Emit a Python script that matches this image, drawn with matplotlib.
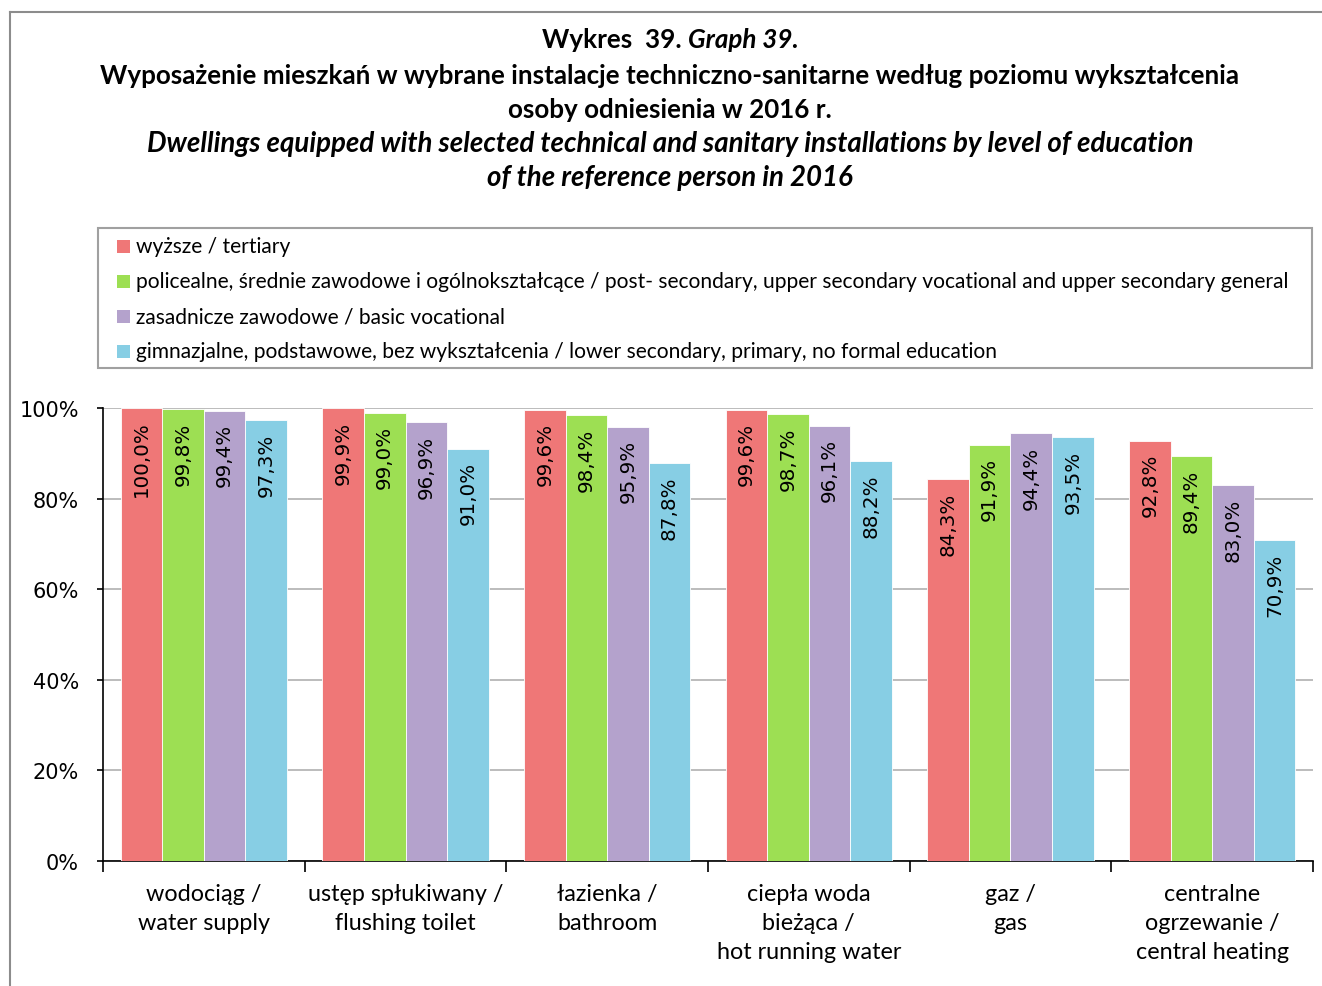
import matplotlib
matplotlib.use("Agg")
import matplotlib.pyplot as plt
from matplotlib.lines import Line2D
from matplotlib.patches import Rectangle
import numpy as np

categories = ["wodociąg /\nwater supply", "ustęp spłukiwany /\nflushing toilet", "łazienka /\nbathroom",
              "ciepła woda\nbieżąca /\nhot running water", "gaz /\ngas", "centralne\nogrzewanie /\ncentral heating"]
series_names = ["wyższe / tertiary",
                "policealne, średnie zawodowe i ogólnokształcące / post- secondary, upper secondary vocational and upper secondary general",
                "zasadnicze zawodowe / basic vocational",
                "gimnazjalne, podstawowe, bez wykształcenia / lower secondary, primary, no formal education"]
tertiary = [100.0, 99.9, 99.6, 99.6, 84.3, 92.8]
secondary = [99.8, 99.0, 98.4, 98.7, 91.9, 89.4]
vocational = [99.4, 96.9, 95.9, 96.1, 94.4, 83.0]
lower = [97.3, 91.0, 87.8, 88.2, 93.5, 70.9]
yticks = [0, 20, 40, 60, 80, 100]
ytick_labels = ["0%", "20%", "40%", "60%", "80%", "100%"]

colors = ["#EF7777", "#9DDF53", "#B4A2CC", "#87CEE4"]
series = [tertiary, secondary, vocational, lower]

W, H = 1322, 987
fig = plt.figure(figsize=(W / 100, H / 100), dpi=100)
fig.patch.set_facecolor("white")

TF = "Lato"

def fx(px):
    return px / W

def fy(py):
    return 1 - py / H

# Frame lines
fig.add_artist(Line2D([fx(10), 1.0], [fy(13), fy(13)], color="#8c8c8c", lw=1.5))
fig.add_artist(Line2D([fx(10), fx(10)], [fy(13), 0], color="#8c8c8c", lw=1.5))

# Title
cx = fx(670)
BS = 18.7
IS = 19.9
t1a = fig.text(0, fy(40), "Wykres  39. ", fontsize=BS, fontweight="bold", family=TF, ha="left", va="center")
t1b = fig.text(0, fy(40), "Graph 39.", fontsize=BS, fontweight="bold", style="italic", family=TF, ha="left", va="center")
fig.canvas.draw()
r = fig.canvas.get_renderer()
wa = t1a.get_window_extent(r).width
wb = t1b.get_window_extent(r).width
start = cx * W - (wa + wb) / 2
t1a.set_x(start / W)
t1b.set_x((start + wa) / W)
fig.text(cx, fy(76), "Wyposażenie mieszkań w wybrane instalacje techniczno-sanitarne według poziomu wykształcenia",
         fontsize=BS, fontweight="bold", family=TF, ha="center", va="center")
fig.text(cx, fy(110), "osoby odniesienia w 2016 r.", fontsize=BS, fontweight="bold", family=TF, ha="center", va="center")
fig.text(cx, fy(144), "Dwellings equipped with selected technical and sanitary installations by level of education",
         fontsize=IS, fontweight="bold", style="italic", family=TF, ha="center", va="center")
fig.text(cx, fy(178), "of the reference person in 2016", fontsize=IS, fontweight="bold", style="italic",
         family=TF, ha="center", va="center")

# Axes
ax = fig.add_axes([fx(103), fy(862), (1313 - 103) / W, (862 - 409) / H])
n = len(categories)
x = np.arange(n)
bw = 0.206
offsets = [-1.5 * bw, -0.5 * bw, 0.5 * bw, 1.5 * bw]
for vals, col, off in zip(series, colors, offsets):
    ax.bar(x + off, vals, width=bw, color=col, edgecolor="white", linewidth=0.6, zorder=3)
    for xi, v in zip(x + off, vals):
        ax.annotate(f"{v:.1f}%".replace(".", ","), (xi, v), xytext=(0, -9), textcoords="offset points",
                    rotation=90, ha="center", va="top", fontsize=14.3, family="DejaVu Sans", color="black", zorder=4)

ax.set_xlim(-0.5, n - 0.5)
ax.set_ylim(0, 100)
ax.set_yticks(yticks)
ax.set_yticklabels(ytick_labels, fontsize=15, family="DejaVu Sans")
ax.yaxis.grid(True, color="#b0b0b0", linewidth=1.2, zorder=0)
ax.set_axisbelow(True)
ax.tick_params(axis="y", direction="out", length=4.3, width=1.2, color="black", pad=13)
ax.set_xticks(x)
ax.set_xticklabels(categories, fontsize=16.8, family=TF, linespacing=1.45, va="top")
ax.tick_params(axis="x", which="major", length=0, pad=16)
ax.set_xticks(np.arange(-0.5, n, 1.0), minor=True)
ax.tick_params(axis="x", which="minor", direction="out", length=8, width=1.2, color="black")
for s in ["top", "right"]:
    ax.spines[s].set_visible(False)
for s in ["left", "bottom"]:
    ax.spines[s].set_color("black")
    ax.spines[s].set_linewidth(1.2)

# Legend (drawn in figure pixel layout)
fig.add_artist(Rectangle((fx(98), fy(369)), (1312 - 98) / W, (369 - 229) / H, facecolor="white",
                         edgecolor="#a0a0a0", linewidth=1.5, transform=fig.transFigure))
row_y = [247, 282, 317, 352]
for name, col, yy in zip(series_names, colors, row_y):
    fig.add_artist(Rectangle((fx(117), fy(yy + 6.5)), 13 / W, 13 / H, facecolor=col, edgecolor="none",
                             transform=fig.transFigure))
    fig.text(fx(136), fy(yy), name, fontsize=15.15, family=TF, ha="left", va="center")

fig.savefig("out.png", dpi=100, facecolor="white")
